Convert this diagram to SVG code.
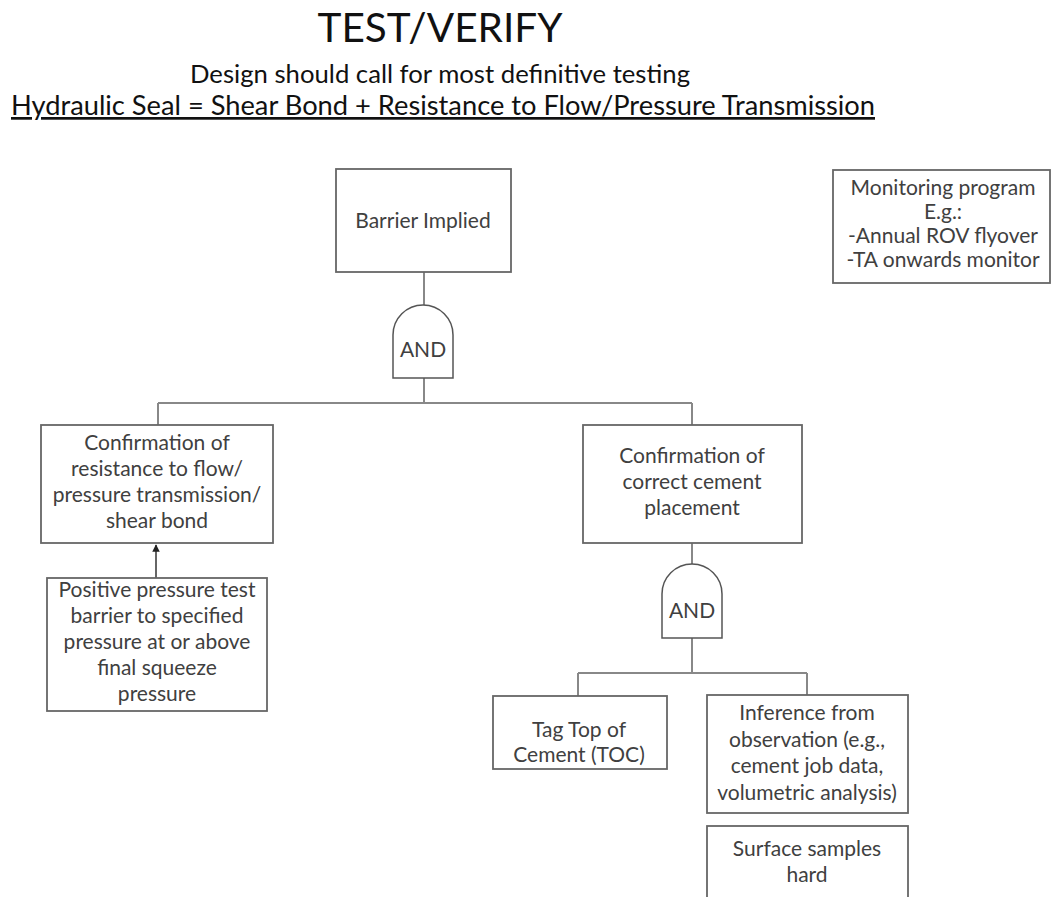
<svg xmlns="http://www.w3.org/2000/svg" width="1052" height="897" viewBox="0 0 1052 897">
  <style>
    text { font-family: Lato, "Open Sans", "Liberation Sans", sans-serif; fill: #404040; }
    .head { fill: #111; }
    .box { fill: #fff; stroke: #666; stroke-width: 1.8; }
    .gate { fill: #fff; stroke: #555; stroke-width: 1.5; }
    .wire { fill: none; stroke: #888; stroke-width: 2; }
    .lbl { font-size: 21px; text-anchor: middle; }
  </style>
  <defs>
    <marker id="arrow" viewBox="0 0 10 10" refX="9" refY="5" markerWidth="5" markerHeight="5" orient="auto">
      <path d="M0,0 L10,5 L0,10 Z" fill="#222"/>
    </marker>
  </defs>
  <rect width="1052" height="897" fill="#fff"/>

  <!-- heading -->
  <g id="heading">
    <text class="head" x="440" y="42" font-size="41" text-anchor="middle" textLength="245" lengthAdjust="spacingAndGlyphs">TEST/VERIFY</text>
    <text class="head" x="440" y="83" font-size="25" text-anchor="middle" textLength="500" lengthAdjust="spacingAndGlyphs">Design should call for most definitive testing</text>
    <text class="head" x="443" y="115" font-size="27" text-anchor="middle" textLength="864" lengthAdjust="spacingAndGlyphs" text-decoration="underline">Hydraulic Seal = Shear Bond + Resistance to Flow/Pressure Transmission</text>
  </g>

  <!-- connectors -->
  <g id="connectors">
    <path class="wire" d="M424,272 V305"/>
    <path class="wire" d="M424,378 V403 M158,403 H692 M158,403 V425 M692,403 V425"/>
    <path class="wire" d="M692,543 V564"/>
    <path class="wire" d="M692,638 V673 M578,673 H807 M578,673 V696 M807,673 V695"/>
    <path d="M156,578 V545" fill="none" stroke="#333" stroke-width="1.5" marker-end="url(#arrow)"/>
  </g>

  <g id="barrier-implied">
    <rect class="box" x="336" y="169" width="175" height="103"/>
    <text class="lbl" x="423" y="228">Barrier Implied</text>
  </g>

  <g id="gate-top">
    <path class="gate" d="M393,378 V335 A30,30 0 0 1 453,335 V378 Z"/>
    <text class="lbl" x="423" y="357" font-size="20">AND</text>
  </g>

  <g id="confirm-resistance">
    <rect class="box" x="41" y="425" width="232" height="118"/>
    <text class="lbl" x="157" y="450">Confirmation of</text>
    <text class="lbl" x="157" y="476">resistance to flow/</text>
    <text class="lbl" x="157" y="502">pressure transmission/</text>
    <text class="lbl" x="157" y="528">shear bond</text>
  </g>

  <g id="pressure-test">
    <rect class="box" x="47" y="578" width="220" height="133"/>
    <text class="lbl" x="157" y="597">Positive pressure test</text>
    <text class="lbl" x="157" y="623">barrier to specified</text>
    <text class="lbl" x="157" y="649">pressure at or above</text>
    <text class="lbl" x="157" y="675">final squeeze</text>
    <text class="lbl" x="157" y="701">pressure</text>
  </g>

  <g id="confirm-placement">
    <rect class="box" x="583" y="425" width="219" height="118"/>
    <text class="lbl" x="692" y="463">Confirmation of</text>
    <text class="lbl" x="692" y="489">correct cement</text>
    <text class="lbl" x="692" y="515">placement</text>
  </g>

  <g id="gate-placement">
    <path class="gate" d="M662,638 V594 A30,30 0 0 1 722,594 V638 Z"/>
    <text class="lbl" x="692" y="618" font-size="20">AND</text>
  </g>

  <g id="tag-toc">
    <rect class="box" x="493" y="696" width="174" height="73"/>
    <text class="lbl" x="579" y="737">Tag Top of</text>
    <text class="lbl" x="579" y="762">Cement (TOC)</text>
  </g>

  <g id="inference">
    <rect class="box" x="707" y="695" width="201" height="118"/>
    <text class="lbl" x="807" y="720">Inference from</text>
    <text class="lbl" x="807" y="747">observation (e.g.,</text>
    <text class="lbl" x="807" y="773">cement job data,</text>
    <text class="lbl" x="807" y="800">volumetric analysis)</text>
  </g>

  <g id="surface-samples">
    <rect class="box" x="707" y="826" width="201" height="90"/>
    <text class="lbl" x="807" y="856">Surface samples</text>
    <text class="lbl" x="807" y="882">hard</text>
  </g>

  <g id="monitoring">
    <rect class="box" x="833" y="170" width="217" height="113"/>
    <text class="lbl" x="943" y="195">Monitoring program</text>
    <text class="lbl" x="943" y="219">E.g.:</text>
    <text class="lbl" x="943" y="243">-Annual ROV flyover</text>
    <text class="lbl" x="943" y="267">-TA onwards monitor</text>
  </g>
</svg>
